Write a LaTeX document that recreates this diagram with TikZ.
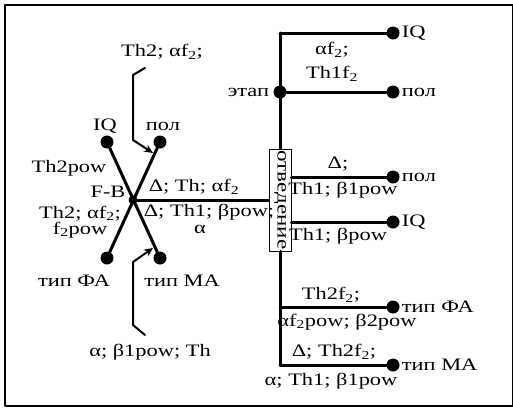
\documentclass[tikz,border=0pt]{standalone}
\usepackage{fontspec}
\setmainfont{Liberation Serif}[FakeStretch=1.28]
\usetikzlibrary{positioning,arrows.meta}
\begin{document}
\begin{tikzpicture}[x=1pt,y=-1pt,line join=round,line cap=round,>={Stealth[length=9pt,width=8pt]},font=\fontsize{17.5}{18}\selectfont]
	\tikzset{dot/.style={circle,fill,inner sep=0pt,minimum size=13pt},
	ln/.style={line width=3pt},
	lb/.style={inner sep=0pt}}
	\def\xd{393}
	\useasboundingbox(0,0)rectangle(513,418);
	\draw[line width=2pt](5,5)rectangle(513,406);
	% X F-B
	\node[dot,minimum size=9pt](fb)at(133,200){};
	\node[dot](iq)at(107,142){};
	\node[dot](pol)at(160,142){};
	\node[dot](fa)at(107,258){};
	\node[dot](ma)at(160,258){};
	\draw[ln](iq)--(ma)(pol)--(fa);
	\node[lb]at(108,192){F-B};
	\node[lb]at(105,126){IQ};
	\node[lb]at(163,126){пол};
	\node[lb]at(69,168){Th2pow};
	\node[lb,align=center,font=\fontsize{17.5}{13}\selectfont]at(80,222){Th2; αf\textsubscript{2};\\f\textsubscript{2}pow};
	\node[lb]at(74,281){тип ФА};
	\node[lb]at(182,281){тип МА};
	% arrows
	\node[lb](ta)at(162,52){Th2; αf\textsubscript{2};};
	\node[lb](tb)at(150,352){α; β1pow; Th};
	\draw[line width=2pt,->](145,68)--(133,75)--(133,140)--(153,153);
	\draw[line width=2pt,->](145,335)--(133,325)--(133,262)--(153,248);
	% trunk
	\node[draw,line width=0.8pt,fill=white,inner sep=0pt,minimum width=22pt,minimum height=102pt](box)at(280,200){\rotatebox{-90}{\fontsize{18}{18}\selectfont отведение}};
	\coordinate(top)at(280,33);
	\coordinate(bot)at(280,365);
	\node[dot](etap)at(280,92){};
	\node[lb,left=4pt of etap]{этап};
	\draw[ln](fb)--(box);
	\draw[ln](top)--(box)(box)--(bot);
	\foreach \y/\nm/\t in {33/d1/IQ,92/d2/пол,177/d3/пол,222/d4/IQ,307/d5/тип ФА,365/d6/тип МА}
	\node[dot](\nm)at(\xd,\y){}node[lb,right=2pt of \nm]{\t};
	\draw[ln](top)--(d1)(etap)--(d2)(d3-|box.east)--(d3)(d4-|box.east)--(d4)(d5-|top)--(d5)(bot)--(d6);
	% labels
	\node[lb]at(194,187){Δ; Th; αf\textsubscript{2}};
	\node[lb]at(209,212){Δ; Th1; βpow;};
	\node[lb]at(200,229){α};
	\node[lb]at(332,50){αf\textsubscript{2};};
	\node[lb]at(332,74){Th1f\textsubscript{2}};
	\node[lb]at(338,164){Δ;};
	\node[lb]at(343,190){Th1; β1pow};
	\node[lb]at(338,236){Th1; βpow};
	\node[lb]at(331,295){Th2f\textsubscript{2};};
	\node[lb]at(347,322){αf\textsubscript{2}pow; β2pow};
	\node[lb]at(334,352){Δ; Th2f\textsubscript{2};};
	\node[lb]at(331,381){α; Th1; β1pow};
\end{tikzpicture}
\end{document}
